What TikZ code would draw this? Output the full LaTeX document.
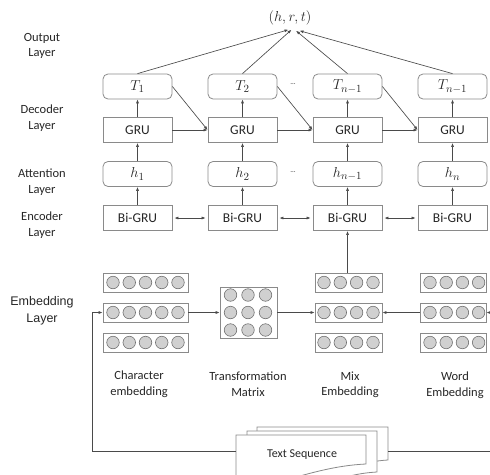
\documentclass[tikz,border=0pt]{standalone}
\usepackage{fontspec}
\setmainfont{Carlito}
\newfontfamily\arialf{Liberation Sans}
\usetikzlibrary{arrows.meta}
\definecolor{boxgray}{HTML}{8A8A8A}
\definecolor{linegray}{HTML}{4A4A4A}
\definecolor{txtc}{HTML}{262626}
\definecolor{cfill}{HTML}{D0D0D0}
\definecolor{cdraw}{HTML}{707070}
\begin{document}
\begin{tikzpicture}[x=1pt,y=-1pt,
  box/.style={draw=boxgray, line width=0.8pt, minimum width=69pt, minimum height=25pt, inner sep=0pt, text=txtc, font=\fontsize{13.5}{15}\selectfont},
  rbox/.style={box, rounded corners=5pt, font=\fontsize{15}{17}\selectfont},
  ebox/.style={draw=boxgray, line width=0.8pt, minimum height=19pt, inner sep=0pt},
  lbl/.style={align=center, text=txtc, font=\fontsize{12.5}{15.5}\selectfont},
  arr/.style={-{Latex[length=4pt,width=3pt]}, draw=linegray, line width=0.65pt},
  darr/.style={{Latex[length=4pt,width=3pt]}-{Latex[length=4pt,width=3pt]}, draw=linegray, line width=0.65pt},
  circ/.style={circle, fill=cfill, draw=cdraw, line width=0.6pt, minimum size=12.5pt, inner sep=0pt},
  page/.style={draw=boxgray, fill=white, line width=0.8pt}
]
\useasboundingbox (0,0) rectangle (490,474);
\clip (0,0) rectangle (490,474);

% left labels
\node[lbl] (lo) at (42,46) {Output\\Layer};
\node[lbl] (ld) at (42,118) {Decoder\\Layer};
\node[lbl] (la) at (42,182) {Attention\\Layer};
\node[lbl] (le) at (42,225) {Encoder\\Layer};
\node[align=center, text=txtc, font=\arialf\fontsize{12.5}{17}\selectfont] (lm) at (42,311) {Embedding\\Layer};

% output
\node[text=txtc, font=\fontsize{15}{17}\selectfont] (hrt) at (290,18) {$(h,r,t)$};

% columns
\foreach \i/\x/\t/\h in {1/137.5/{T_1}/{h_1}, 2/242.5/{T_2}/{h_2}, 3/347.5/{T_{n-1}}/{h_{n-1}}, 4/452.5/{T_{n-1}}/{h_n}} {
  \node[rbox] (T\i) at (\x,86.5) {$\t$};
  \node[box] (G\i) at (\x,130) {GRU};
  \node[rbox] (H\i) at (\x,174) {$\h$};
  \node[box] (B\i) at (\x,218) {Bi-GRU};
  \draw[arr] (G\i) -- (T\i);
  \draw[arr] (H\i) -- (G\i);
  \draw[arr] (B\i) -- (H\i);
}
\node[text=txtc, font=\fontsize{7}{8}\selectfont] (d1) at (293,84) {\dots};
\node[text=txtc, font=\fontsize{7}{8}\selectfont] (d2) at (293,172) {\dots};

\draw[arr] (T1.north) -- ([xshift=-1.5pt,yshift=-1pt]hrt.south);
\draw[arr] (T2.north) -- ([xshift=1.5pt,yshift=-1pt]hrt.south);
\draw[arr] (T3.north) -- ([xshift=6pt,yshift=-2pt]hrt.south);
\draw[arr] (T4.north) -- ([xshift=9.5pt,yshift=-2pt]hrt.south);

\foreach \a/\b in {1/2,2/3,3/4} {
  \draw[arr] (G\a) -- (G\b);
  \draw[arr] (T\a.east) -- (G\b.west);
  \draw[darr] ([xshift=2pt]B\a.east) -- ([xshift=-2pt]B\b.west);
}

% embeddings
\foreach \r/\y in {1/282.5,2/312.5,3/342.5} {
  \node[ebox, minimum width=85pt] (c\r) at (145.5,\y) {};
  \foreach \cx in {113,129.25,145.5,161.75,178} \node[circ] at (\cx,\y) {};
  \node[ebox, minimum width=67pt] (m\r) at (348.5,\y) {};
  \foreach \cx in {324,340.3,356.6,373} \node[circ] at (\cx,\y) {};
  \node[ebox, minimum width=66pt] (w\r) at (453,\y) {};
  \foreach \cx in {430,446.2,462.4,478.6} \node[circ] at (\cx,\y) {};
}
\node[ebox, minimum width=57pt, minimum height=51pt] (tm) at (248.5,312.5) {};
\foreach \cx in {230.5,248,265.5} \foreach \cy in {295,312.5,330} \node[circ] at (\cx,\cy) {};

\draw[arr] (c2) -- (tm);
\draw[arr] (tm) -- (m2);
\draw[arr] (w2) -- (m2);
\draw[arr] (B3.south |- m1.north) -- (B3.south);

% bottom labels
\node[lbl] (lc) at (139,384) {Character\\embedding};
\node[lbl] (lt) at (248,384) {Transformation\\Matrix};
\node[lbl] (lx) at (350,385) {Mix\\Embedding};
\node[lbl] (lw) at (455,385) {Word\\Embedding};

% text sequence stack
\draw[page] (257,427) -- (388,427) -- (388,460) .. controls (370,461) and (350,466) .. (320,478) -- (257,478) -- cycle;
\draw[page] (247,431) -- (377,431) -- (377,472) .. controls (360,473) and (345,476) .. (320,486) -- (247,486) -- cycle;
\draw[page] (236,435) -- (366,435) -- (366,464) .. controls (345,465) and (325,469) .. (300,476) .. controls (280,482) and (260,484) .. (236,484) -- cycle;
\node[text=txtc, font=\fontsize{12}{14}\selectfont] (ts) at (302,455) {Text Sequence};

\coordinate (tsl) at (236,451);
\coordinate (lcor) at (92,451);
\coordinate (tsr) at (388,451);
\coordinate (rcor) at (497,451);
\draw[arr] (tsl) -- (lcor) |- (c2.west);
\draw[arr] (tsr) -- (rcor) |- (w2.east);
\end{tikzpicture}
\end{document}
